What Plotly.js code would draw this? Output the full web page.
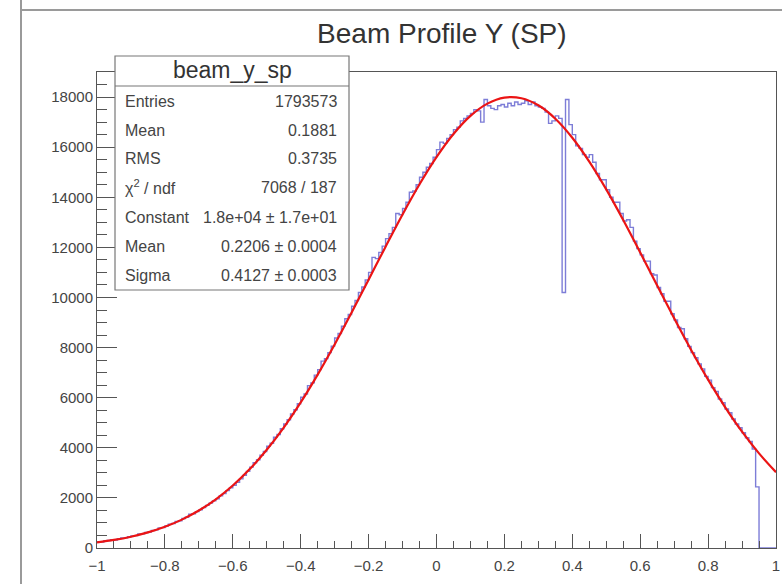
<!DOCTYPE html>
<html>
<head>
<meta charset="utf-8">
<script src="https://cdn.plot.ly/plotly-3.0.1.min.js"></script>
<style>html,body{margin:0;padding:0;background:#fff;}#chart{width:782px;height:584px;}</style>
</head>
<body>
<div id="chart"></div>
<script>
// ---- data ----
const histName = "beam_y_sp";
const xMin = -1, xMax = 1, binWidth = 0.01;
const histValues = [
  250,240,290,300,330,320,370,400,405,450,
  480,495,560,565,620,640,700,725,800,815,
  880,950,975,1060,1090,1180,1230,1350,1370,1450,
  1520,1610,1700,1790,1880,1960,2080,2170,2290,2400,
  2500,2620,2760,2900,3060,3230,3400,3520,3700,3850,
  4060,4180,4420,4530,4760,4950,5120,5350,5520,5760,
  6020,6150,6480,6590,6900,7120,7460,7560,7800,8060,
  8380,8560,8850,9150,9320,9650,9880,10200,10420,10700,
  11000,11600,11550,11800,12050,12350,12550,12800,13350,13300,
  13550,13800,14200,14250,14500,14800,15000,15200,15350,15600,
  15900,16200,16150,16350,16500,16700,16800,17050,17150,17250,
  17350,17500,17450,17000,17900,17650,17550,17500,17650,17700,
  17600,17750,17650,17800,17700,17750,17850,17700,17800,17650,
  17600,17550,17400,16950,17050,17250,17150,10200,17900,16900,
  16500,16050,15950,15700,15600,15700,15400,14950,14700,14700,
  14300,14000,13800,13800,13350,13050,13100,12800,12250,11950,
  11700,11450,11450,10950,10900,10400,10150,9850,9850,9350,
  9100,8800,8750,8350,8050,7800,7600,7350,7150,6850,
  6700,6400,6250,5950,5800,5550,5400,5150,4950,4800,
  4600,4400,4250,3950,2440,0,0,0,0,0
];
const fitX = [-1,-0.95,-0.9,-0.85,-0.8,-0.75,-0.7,-0.65,-0.6,-0.55,-0.5,-0.45,-0.4,-0.35,-0.3,-0.25,-0.2,-0.15,-0.1,-0.05,
  0,0.05,0.1,0.15,0.2,0.25,0.3,0.35,0.4,0.45,0.5,0.55,0.6,0.65,0.7,0.75,0.8,0.85,0.9,0.95,1];
const fitY = [227,322,451,622,846,1133,1495,1945,2493,3149,3920,4808,5811,6921,8123,9396,10709,12027,13312,14518,
  15603,16526,17248,17738,17978,17954,17670,17136,16377,15423,14314,13091,11796,10476,9167,7906,6719,5626,4643,3776,3026];
const statLabels = ["Entries","Mean","RMS","\u03C7<sup>2</sup> / ndf","Constant","Mean","Sigma"];
const statValues = ["1793573","0.1881","0.3735","7068 / 187","1.8e+04 \u00B1 1.7e+01","0.2206 \u00B1 0.0004","0.4127 \u00B1 0.0003"];
const titleText = "Beam Profile Y (SP)";

// ---- layout geometry (pixels) ----
const L = 97, R = 6, T = 72, B = 36, WIDTH = 782, HEIGHT = 584;
const PW = WIDTH - L - R, PH = HEIGHT - T - B;
const px = x => (x - L) / PW;
const py = y => (T + PH - y) / PH;
const FONT = "Liberation Sans, Arial, Helvetica, sans-serif";

// histogram outline built from bin edges
const edges = [], stepY = [];
for (let i = 0; i <= histValues.length; i++) {
  edges.push(xMin + i * binWidth);
  stepY.push(histValues[Math.min(i, histValues.length - 1)]);
}

const traces = [
  {x: edges, y: stepY, type: 'scatter', mode: 'lines',
   line: {shape: 'hv', color: 'rgb(125,125,215)', width: 1.4}, hoverinfo: 'skip'},
  {x: fitX, y: fitY, type: 'scatter', mode: 'lines',
   line: {shape: 'spline', color: 'rgb(235,20,20)', width: 2.2}, hoverinfo: 'skip'}
];

const shapes = [
  // canvas border lines
  {type: 'line', xref: 'paper', yref: 'paper', x0: px(21), x1: px(21), y0: py(0), y1: py(HEIGHT),
   line: {color: '#9a9a9a', width: 2}},
  {type: 'line', xref: 'paper', yref: 'paper', x0: px(21), x1: px(WIDTH), y0: py(10), y1: py(10),
   line: {color: '#9a9a9a', width: 2}},
  // stats box
  {type: 'rect', xref: 'paper', yref: 'paper', x0: px(115), x1: px(349), y0: py(56), y1: py(290),
   fillcolor: '#ffffff', line: {color: '#777', width: 1.2}, layer: 'above'},
  {type: 'line', xref: 'paper', yref: 'paper', x0: px(115), x1: px(349), y0: py(86), y1: py(86),
   line: {color: '#777', width: 1.2}, layer: 'above'}
];

const rowY = [101, 130, 158, 187, 217, 246, 275];
const annotations = [
  {text: histName, xref: 'paper', yref: 'paper', x: px(232), y: py(70), xanchor: 'center', yanchor: 'middle',
   showarrow: false, font: {family: FONT, size: 23, color: '#333'}}
];
statLabels.forEach((lab, i) => {
  annotations.push({text: lab, xref: 'paper', yref: 'paper', x: px(123), y: py(rowY[i]),
    xanchor: 'left', yanchor: 'middle', showarrow: false, font: {family: FONT, size: 16, color: '#444'}});
  annotations.push({text: statValues[i], xref: 'paper', yref: 'paper', x: px(339), y: py(rowY[i]),
    xanchor: 'right', yanchor: 'middle', showarrow: false, font: {family: FONT, size: 16, color: '#444'}});
});

const layout = {
  width: WIDTH, height: HEIGHT,
  margin: {l: L, r: R, t: T, b: B, pad: 0},
  paper_bgcolor: '#ffffff', plot_bgcolor: '#ffffff',
  showlegend: false,
  title: {text: titleText, x: 0.565, xref: 'container', y: 1 - 33 / HEIGHT, yref: 'container',
          xanchor: 'center', yanchor: 'middle', font: {family: FONT, size: 28, color: '#333'}},
  xaxis: {range: [xMin, xMax], dtick: 0.2, tick0: 0, ticks: 'inside', ticklen: 14, tickcolor: '#555',
          ticklabelstandoff: 4,
          showgrid: false, zeroline: false, showline: true, mirror: true, linecolor: '#555', linewidth: 1,
          tickfont: {family: FONT, size: 15, color: '#444'},
          minor: {dtick: 0.05, ticks: 'inside', ticklen: 7, tickcolor: '#555', showgrid: false}},
  yaxis: {range: [0, 19000], dtick: 2000, tick0: 0, tickformat: 'd', ticks: 'inside', ticklen: 20, tickcolor: '#555',
          showgrid: false, zeroline: false, showline: true, mirror: true, linecolor: '#555', linewidth: 1,
          tickfont: {family: FONT, size: 15, color: '#444'},
          minor: {dtick: 500, ticks: 'inside', ticklen: 10, tickcolor: '#555', showgrid: false}},
  shapes: shapes,
  annotations: annotations
};

Plotly.newPlot('chart', traces, layout, {staticPlot: true, displayModeBar: false});
</script>
</body>
</html>
